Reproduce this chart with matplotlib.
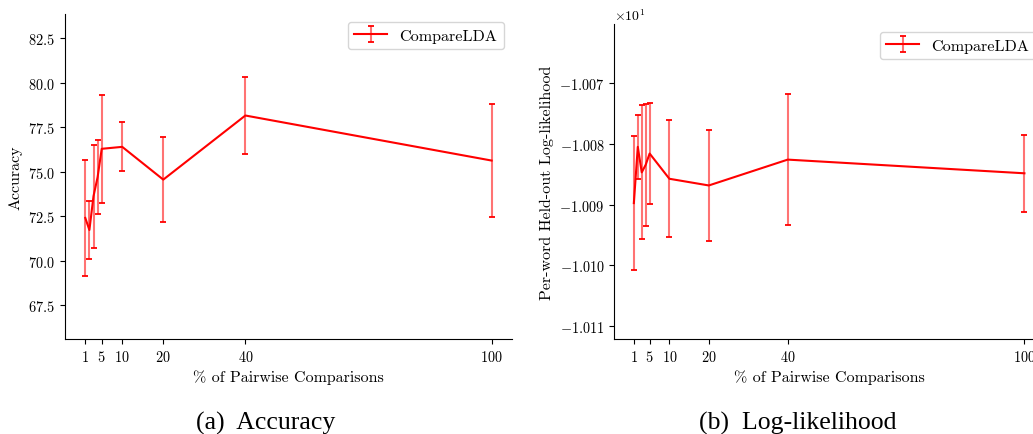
import matplotlib
matplotlib.use("Agg")
import matplotlib.pyplot as plt

# ============
#  DATA
# ============

pct = [1, 2, 3, 4, 5, 10, 20, 40, 100]
tick_pct = [1, 5, 10, 20, 40, 100]

acc_mean = [72.40, 71.72, 73.62, 74.69, 76.28, 76.39, 74.55, 78.15, 75.62]
acc_err = [3.25, 1.62, 2.90, 2.09, 3.03, 1.38, 2.40, 2.18, 3.17]

ll_mean = [-10.08975, -10.0805, -10.0847, -10.08345, -10.0816,
           -10.08575, -10.08685, -10.0826, -10.08485]
ll_err = [0.0110, 0.0053, 0.0110, 0.0100, 0.0083,
          0.0096, 0.0092, 0.0108, 0.0063]

# ============
#  STYLE
# ============

plt.rcParams["font.family"] = ["cmr10", "DejaVu Serif"]
plt.rcParams["mathtext.fontset"] = "cm"
plt.rcParams["axes.formatter.use_mathtext"] = True
plt.rcParams["font.size"] = 10


def draw(ax, mean, err):
    line, caps, bars = ax.errorbar(pct, mean, yerr=err, color="red",
                                   linewidth=1.5, elinewidth=1.5,
                                   capsize=2, capthick=1.3,
                                   label="CompareLDA")
    for b in bars:
        b.set_alpha(0.55)
    ax.spines["top"].set_visible(False)
    ax.spines["right"].set_visible(False)
    ax.set_xticks(tick_pct)
    ax.set_xlabel("% of Pairwise Comparisons", fontsize=11.5)
    ax.tick_params(labelsize=10.3)
    ax.legend(loc="upper right", fontsize=11.6)


fig = plt.figure(figsize=(10.33, 4.35), dpi=100)

# --- (a) accuracy ---
ax1 = fig.add_axes([0.0629, 0.2184, 0.4327, 0.7471])
draw(ax1, acc_mean, acc_err)
ax1.set_ylim(65.6, 83.85)
ax1.set_ylabel("Accuracy", fontsize=11.5)

# --- (b) log-likelihood (runs off the right edge like the original) ---
ax2 = fig.add_axes([0.5947, 0.2184, 0.4159, 0.7241])
draw(ax2, ll_mean, ll_err)
ax2.set_ylim(-10.1121, -10.0603)
ax2.set_yticks([-10.11, -10.10, -10.09, -10.08, -10.07])
ax2.ticklabel_format(axis="y", style="sci", scilimits=(0, 0), useOffset=False)
ax2.set_ylabel("Per-word Held-out Log-likelihood", fontsize=11.5)

# captions
fig.text(0.257, 0.012, "(a)  Accuracy", fontsize=18.5,
         family="Liberation Serif", ha="center", va="baseline")
fig.text(0.772, 0.012, "(b)  Log-likelihood", fontsize=18.5,
         family="Liberation Serif", ha="center", va="baseline")

fig.savefig("out.png", dpi=100)
